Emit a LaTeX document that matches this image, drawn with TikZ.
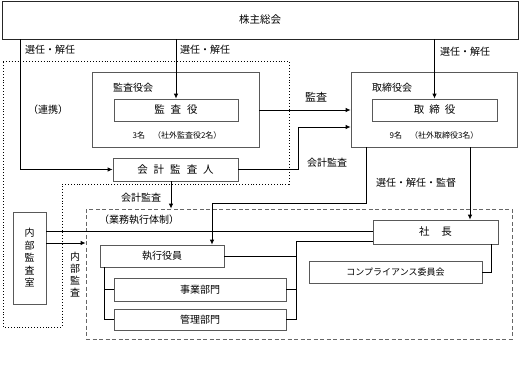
\documentclass[tikz,border=0pt]{standalone}
\usepackage{fontspec}
\setmainfont{Noto Sans CJK JP}
\usetikzlibrary{arrows.meta}
\begin{document}
\begin{tikzpicture}[x=1pt,y=-1pt,
  box/.style={draw=black!65,line width=0.7pt,fill=white,inner sep=0pt,font=\fontsize{10}{12}\selectfont},
  conn/.style={line width=0.9pt,black},
  arr/.style={conn,-{Latex[length=5pt,width=4.5pt]}},
  lbl/.style={inner sep=0pt,font=\fontsize{10}{12}\selectfont},
  small/.style={inner sep=0pt,font=\fontsize{8}{10}\selectfont},
  dotbox/.style={line width=0.9pt,dotted},
  dashbox/.style={draw=black!60,line width=0.8pt,dash pattern=on 4pt off 2.5pt}]
\useasboundingbox (0,0) rectangle (529,364);
% dotted audit region
\draw[dotbox] (3,61) -- (289,61) -- (289,184) -- (62,184) -- (62,327) -- (3,327) -- cycle;
% boxes
\node[box,draw=black!85,minimum width=516pt,minimum height=38pt] (top) at (260,20) {\fontsize{10.5}{12}\selectfont 株主総会};
\node[box,minimum width=167pt,minimum height=75pt] (kansakai) at (175.5,109.5) {};
\node[lbl,anchor=west] (kansakaiL) at (113,88) {監査役会};
\node[box,minimum width=124pt,minimum height=22pt] (kansa) at (176,110) {\fontsize{10.5}{12}\selectfont 監\hspace{6pt}査\hspace{6pt}役};
\node[small] (kansaN) at (177,135) {3名　（社外監査役2名）};
\node[box,minimum width=125pt,minimum height=23pt] (kaikei) at (175.5,169.5) {\fontsize{10.5}{12}\selectfont 会\hspace{6pt}計\hspace{6pt}監\hspace{6pt}査\hspace{6pt}人};
\node[box,minimum width=166pt,minimum height=75pt] (torikai) at (434,109.5) {};
\node[lbl,anchor=west] (torikaiL) at (372,88) {取締役会};
\node[box,minimum width=125pt,minimum height=22pt] (tori) at (434.5,110) {\fontsize{10.5}{12}\selectfont 取\hspace{5pt}締\hspace{5pt}役};
\node[small] (toriN) at (434,135) {9名　（社外取締役3名）};
\node[dashbox,minimum width=426pt,minimum height=130pt,inner sep=0pt] (gyomu) at (299,274) {};
\node[lbl,anchor=west] (gyomuL) at (99,220) {（業務執行体制）};
\node[box,minimum width=33pt,minimum height=92pt,align=center,font=\fontsize{10}{12.5}\selectfont] (naibu) at (29.5,258) {内\\部\\監\\査\\室};
\node[box,minimum width=125pt,minimum height=24pt] (shacho) at (435.5,232) {\fontsize{10.5}{12}\selectfont 社\hspace{12pt}長};
\node[box,minimum width=124pt,minimum height=22pt] (shikko) at (162,256) {執行役員};
\node[box,minimum width=172pt,minimum height=23pt] (jigyo) at (200,289.5) {事業部門};
\node[box,minimum width=172pt,minimum height=21pt] (kanri) at (200,319.5) {管理部門};
\node[box,minimum width=173pt,minimum height=22pt,font=\fontsize{9}{11}\selectfont] (comp) at (395.5,272) {コンプライアンス委員会};
% labels
\node[lbl] (l1) at (50,50) {選任・解任};
\node[lbl] (l2) at (205,50) {選任・解任};
\node[lbl] (l3) at (465,52) {選任・解任};
\node[lbl] (renkei) at (48,110) {（連携）};
\node[lbl,font=\fontsize{11}{12}\selectfont] (kansaL) at (316,97) {監査};
\node[lbl] (kaikeiL1) at (327,163) {会計監査};
\node[lbl] (kaikeiL2) at (141,198) {会計監査};
\node[lbl] (kantoku) at (416,183) {選任・解任・監督};
\node[lbl,align=center,font=\fontsize{10}{12}\selectfont] (naibuL) at (75,275) {内\\部\\監\\査};
% helper coordinates
\coordinate (c20) at (20,0);
\coordinate (k1) at (298,127);
\coordinate (t1) at (366,203);
\coordinate (t2) at (212,203);
\coordinate (t3) at (470,0);
\coordinate (a171) at (171,0);
\coordinate (n1) at (0,231);
\coordinate (n2) at (0,243);
\coordinate (s1) at (296,241);
\coordinate (e1) at (104,0);
\coordinate (r1) at (491,0);
\coordinate (m1) at (0,110);
% connectors
\draw[arr] (top.south -| c20) |- (kaikei.west);
\draw[arr] (top.south -| kansa.north) -- (kansa.north);
\draw[arr] (top.south -| tori.north) -- (tori.north);
\draw[arr] (kansakai.east |- m1) -- (torikai.west |- m1);
\draw[arr] (kaikei.east) -| (k1) -- (k1 -| torikai.west);
\draw[arr] (torikai.south -| t1) -- (t1) -- (t2) -- (t2 |- shikko.north);
\draw[arr] (torikai.south -| t3) -- (shacho.north -| t3);
\draw[arr] (kaikei.south -| a171) -- (gyomu.north -| a171);
\draw[conn] (naibu.east |- n1) -- (shacho.west |- n1);
\draw[arr] (naibu.east |- n2) -- (gyomu.west |- n2);
\draw[conn] (shacho.west |- s1) -- (s1) |- (kanri.east);
\draw[conn] (shikko.east) -- (shikko.east -| s1);
\draw[conn] (jigyo.east) -- (jigyo.east -| s1);
\draw[conn] (shikko.south -| e1) |- (kanri.west);
\draw[conn] (jigyo.west) -- (jigyo.west -| e1);
\draw[conn] (shacho.south -| r1) |- (comp.east);
\end{tikzpicture}
\end{document}
